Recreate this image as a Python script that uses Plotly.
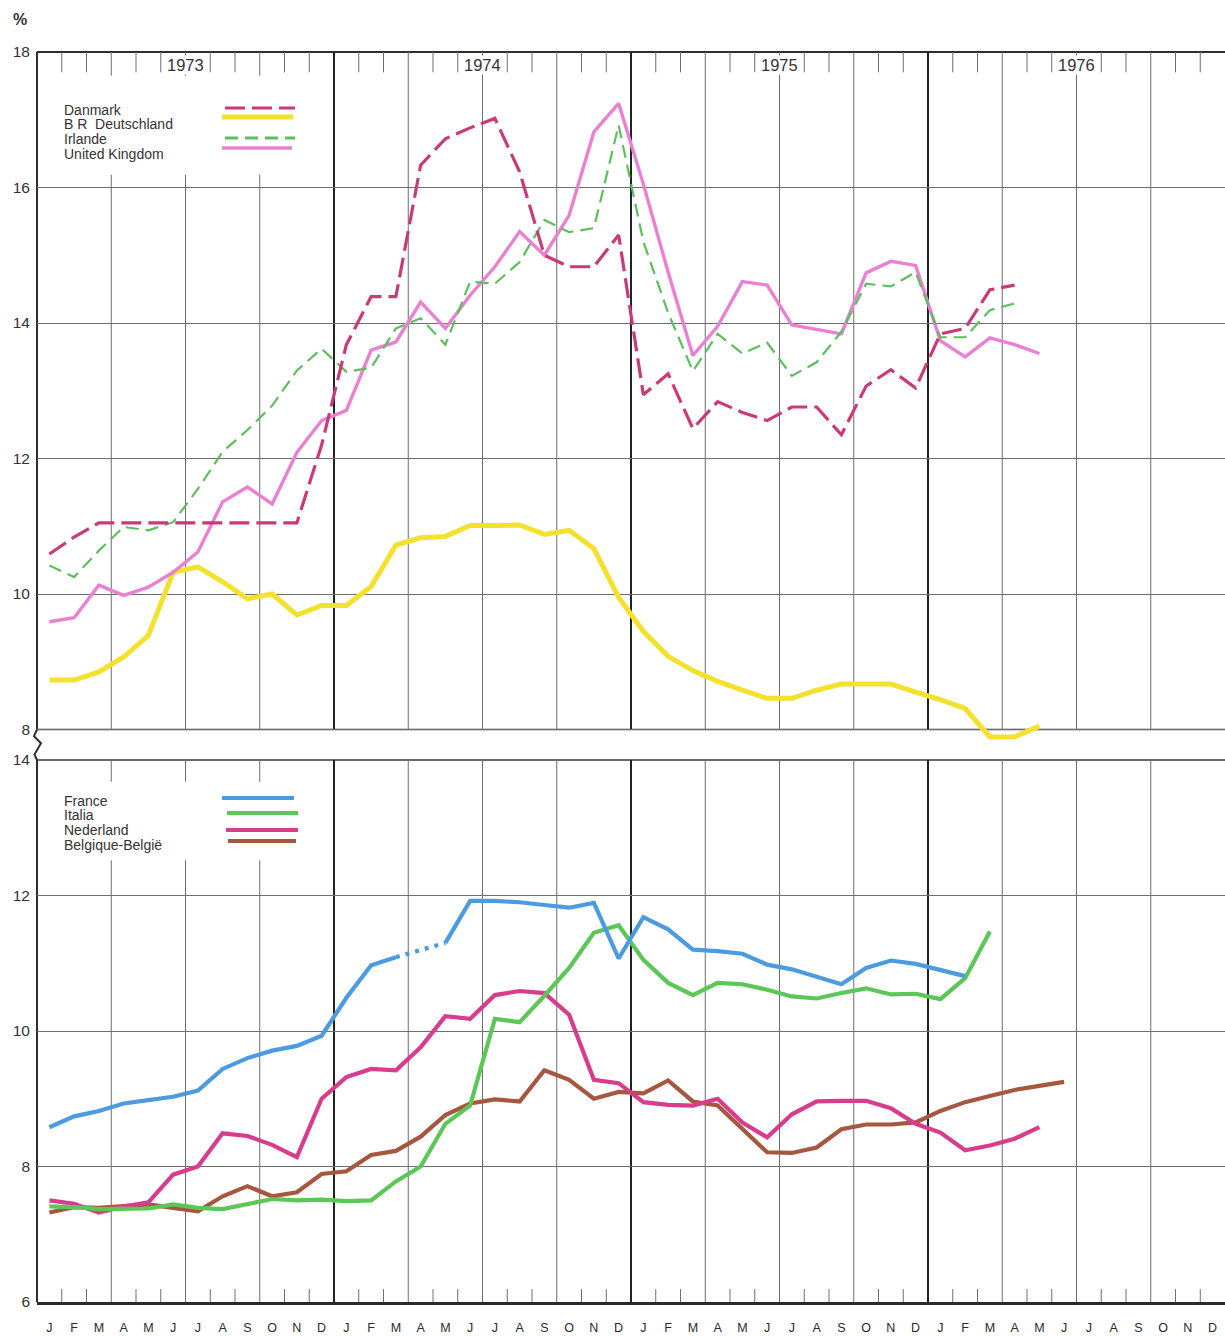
import plotly.graph_objects as go

# months Jan 1973 .. Dec 1976, one slot per month
MONTHS = list(range(48))
MONTH_LETTERS = list("JFMAMJJASOND") * 4
YEARS = ["1973", "1974", "1975", "1976"]

# ---- upper panel (%)
danmark = [10.59, 10.84, 11.05, 11.05, 11.05, 11.05, 11.05, 11.05, 11.05, 11.05, 11.05, 12.2,
           13.68, 14.39, 14.39, 16.33, 16.72, 16.88, 17.02, 16.23, 15.0, 14.83, 14.83, 15.3,
           12.94, 13.25, 12.44, 12.84, 12.68, 12.56, 12.76, 12.76, 12.35, 13.07, 13.31, 13.04,
           13.84, 13.92, 14.49, 14.56]
deutschland = [8.73, 8.73, 8.85, 9.07, 9.39, 10.32, 10.40, 10.18, 9.93, 10.0, 9.69, 9.83,
               9.83, 10.11, 10.72, 10.83, 10.85, 11.01, 11.01, 11.02, 10.88, 10.94, 10.67, 9.95,
               9.45, 9.08, 8.87, 8.71, 8.58, 8.46, 8.46, 8.58, 8.67, 8.67, 8.67, 8.55,
               8.44, 8.31, 7.89, 7.89, 8.05]
irlande = [10.42, 10.25, 10.64, 10.99, 10.94, 11.06, 11.55, 12.1, 12.42, 12.78, 13.3, 13.62,
           13.28, 13.34, 13.92, 14.07, 13.68, 14.61, 14.58, 14.9, 15.52, 15.34, 15.4, 16.92,
           15.2, 14.15, 13.29, 13.84, 13.55, 13.71, 13.22, 13.42, 13.87, 14.58, 14.54, 14.75,
           13.79, 13.79, 14.19, 14.29]
united_kingdom = [9.59, 9.65, 10.13, 9.98, 10.10, 10.32, 10.62, 11.36, 11.58, 11.33, 12.09, 12.56,
                  12.71, 13.6, 13.72, 14.31, 13.92, 14.41, 14.83, 15.35, 15.0, 15.59, 16.82, 17.24,
                  16.05, 14.75, 13.52, 13.95, 14.61, 14.56, 13.97, 13.9, 13.84, 14.74, 14.91, 14.85,
                  13.74, 13.5, 13.78, 13.68, 13.55]

# ---- lower panel (%)
france = [8.58, 8.74, 8.82, 8.93, 8.98, 9.03, 9.12, 9.44, 9.6, 9.71, 9.78, 9.93,
          10.49, 10.97, 11.09, None, 11.3, 11.92, 11.92, 11.9, 11.86, 11.82, 11.89, 11.07,
          11.68, 11.5, 11.2, 11.18, 11.14, 10.98, 10.91, 10.8, 10.69, 10.93, 11.04, 10.99,
          10.9, 10.81]
italia = [7.41, 7.40, 7.37, 7.37, 7.38, 7.44, 7.39, 7.37, 7.44, 7.52, 7.50, 7.51,
          7.49, 7.50, 7.78, 8.0, 8.63, 8.9, 10.18, 10.13, 10.52, 10.93, 11.45, 11.56,
          11.05, 10.71, 10.53, 10.71, 10.69, 10.61, 10.51, 10.48, 10.56, 10.63, 10.54, 10.55,
          10.47, 10.78, 11.47]
nederland = [7.5, 7.45, 7.32, 7.41, 7.47, 7.88, 8.0, 8.49, 8.45, 8.32, 8.14, 9.0,
             9.32, 9.44, 9.42, 9.76, 10.22, 10.18, 10.53, 10.59, 10.56, 10.24, 9.28, 9.23,
             8.95, 8.91, 8.9, 9.0, 8.65, 8.43, 8.77, 8.96, 8.97, 8.97, 8.86, 8.63,
             8.5, 8.24, 8.31, 8.41, 8.58]
belgique = [7.32, 7.40, 7.39, 7.42, 7.44, 7.39, 7.34, 7.56, 7.71, 7.56, 7.62, 7.89,
            7.93, 8.17, 8.23, 8.44, 8.76, 8.93, 8.99, 8.96, 9.42, 9.28, 9.0, 9.1,
            9.08, 9.27, 8.96, 8.9, 8.55, 8.21, 8.2, 8.28, 8.55, 8.62, 8.62, 8.65,
            8.82, 8.95, 9.04, 9.13, 9.19, 9.25]

FONT = "Liberation Sans, Arial, sans-serif"
INK = "#333333"
GRID = "#6e6e6e"

W, H = 1225, 1336
ML, MT, MB = 37, 52, 34
PLOT_W = W - ML
PLOT_H = H - MT - MB

TOP_RANGE = [7.84, 18]
BOT_RANGE = [6, 14]
BOT_DOM = [0, 542 / PLOT_H]
TOP_DOM = [1 - (TOP_RANGE[1] - TOP_RANGE[0]) * 67.75 / PLOT_H, 1]


def px(x):
    return (x - ML) / PLOT_W


def py(y):
    return (H - MB - y) / PLOT_H


def top_paper(v):
    return TOP_DOM[0] + (v - TOP_RANGE[0]) / (TOP_RANGE[1] - TOP_RANGE[0]) * (TOP_DOM[1] - TOP_DOM[0])


def bot_paper(v):
    return BOT_DOM[0] + (v - BOT_RANGE[0]) / (BOT_RANGE[1] - BOT_RANGE[0]) * (BOT_DOM[1] - BOT_DOM[0])


fig = go.Figure()


def add_line(values, color, width, dash, yaxis):
    fig.add_trace(go.Scatter(
        x=MONTHS[:len(values)], y=values, mode="lines",
        line=dict(color=color, width=width, dash=dash),
        connectgaps=False, showlegend=False, hoverinfo="skip",
        xaxis="x", yaxis=yaxis,
    ))


top_series = [
    ("Danmark", danmark, "#c93a7a", 3.2, "20px,7px"),
    ("B R  Deutschland", deutschland, "#f4e12e", 5, "solid"),
    ("Irlande", irlande, "#5cbf5c", 2.2, "13px,7px"),
    ("United Kingdom", united_kingdom, "#ea80d2", 3.4, "solid"),
]
bottom_series = [
    ("France", france, "#4c9be0", 4.2, "solid"),
    ("Italia", italia, "#5cc657", 4.2, "solid"),
    ("Nederland", nederland, "#d83c8c", 4.2, "solid"),
    ("Belgique-België", belgique, "#a5573f", 4.2, "solid"),
]

# draw order: yellow and UK under the dashed lines
for name, vals, col, w, d in [top_series[1], top_series[3], top_series[2], top_series[0]]:
    add_line(vals, col, w, d, "y2")
for name, vals, col, w, d in [bottom_series[3], bottom_series[2], bottom_series[1], bottom_series[0]]:
    add_line(vals, col, w, d, "y")

# dotted bridge over the missing French month
gap = france.index(None)
fig.add_trace(go.Scatter(
    x=[MONTHS[gap - 1], MONTHS[gap + 1]], y=[france[gap - 1], france[gap + 1]],
    mode="lines", line=dict(color="#4c9be0", width=4.2, dash="4px,6px"),
    showlegend=False, hoverinfo="skip", xaxis="x", yaxis="y",
))

shapes = []


def seg(x0, x1, y0, y1, yref, color, width, xref="x"):
    shapes.append(dict(type="line", xref=xref, yref=yref, x0=x0, x1=x1, y0=y0, y1=y1,
                       line=dict(color=color, width=width), layer="below"))


# vertical rulings: year lines, quarter lines, month ticks
for yr in range(4):
    for m in range(12):
        b = 12 * yr + m - 0.5
        if m == 0:
            if yr > 0:
                seg(b, b, 8, 18, "y2", "#222222", 2)
                seg(b, b, 6, 14, "y", "#222222", 2)
        elif m % 3 == 0:
            if yr == 0:
                seg(b, b, 8, 16.19, "y2", GRID, 1)
                seg(b, b, 17.65, 18, "y2", GRID, 1)
                seg(b, b, 6, 12.52, "y", GRID, 1)
                seg(b, b, 13.68, 14, "y", GRID, 1)
            else:
                seg(b, b, 8, 18, "y2", GRID, 1)
                seg(b, b, 6, 14, "y", GRID, 1)
        else:
            seg(b, b, 17.7, 18, "y2", GRID, 1)
            seg(b, b, 6, 6.19, "y", GRID, 1)

# frame lines (paper coords)
seg(0, 1, 1, 1, "paper", "#2e2e2e", 2, xref="paper")
seg(0, 1, top_paper(8), top_paper(8), "paper", "#3a3a3a", 1.6, xref="paper")
seg(0, 1, bot_paper(14), bot_paper(14), "paper", "#3a3a3a", 1.6, xref="paper")
seg(0, 0, top_paper(8), 1, "paper", "#2e2e2e", 2, xref="paper")
seg(0, 0, 0, bot_paper(14), "paper", "#2e2e2e", 2, xref="paper")
yt, yb = top_paper(8), bot_paper(14)
zig = "M {} {} L {} {} L {} {} L {} {} L {} {}".format(
    px(37), yt, px(34), yt - (yt - yb) * 0.22, px(41), yt - (yt - yb) * 0.45,
    px(34.5), yt - (yt - yb) * 0.82, px(37), yb)
shapes.append(dict(type="path", xref="paper", yref="paper", path=zig,
                   line=dict(color="#2e2e2e", width=2)))

annotations = []

# legends: label on the left, key line on the right
top_keys = [(110, 108, 225, 295), (124, 117, 222, 293), (139, 138, 225, 295), (154, 148, 222, 292)]
for (name, vals, col, w, d), (ty, ly, x0, x1) in zip(top_series, top_keys):
    annotations.append(dict(xref="paper", yref="paper", x=px(62), y=py(ty), text=name,
                            showarrow=False, xanchor="left", yanchor="middle",
                            font=dict(family=FONT, size=14, color=INK)))
    shapes.append(dict(type="line", xref="paper", yref="paper", x0=px(x0), x1=px(x1),
                       y0=py(ly), y1=py(ly), line=dict(color=col, width=max(w, 3), dash=d)))

bot_keys = [(801, 798, 222, 294), (815, 813, 227, 298), (830, 830, 226, 298), (845, 841, 228, 296)]
for (name, vals, col, w, d), (ty, ly, x0, x1) in zip(bottom_series, bot_keys):
    annotations.append(dict(xref="paper", yref="paper", x=px(62), y=py(ty), text=name,
                            showarrow=False, xanchor="left", yanchor="middle",
                            font=dict(family=FONT, size=14, color=INK)))
    shapes.append(dict(type="line", xref="paper", yref="paper", x0=px(x0), x1=px(x1),
                       y0=py(ly), y1=py(ly), line=dict(color=col, width=4)))

# year labels
for k, yr in enumerate(YEARS):
    annotations.append(dict(xref="x", yref="y2", x=12 * k + 5.5, y=17.81, text=yr,
                            showarrow=False, bgcolor="white", borderpad=0,
                            font=dict(family=FONT, size=16.5, color=INK)))

annotations.append(dict(xref="paper", yref="paper", x=px(11), y=py(20), text="<b>%</b>",
                        showarrow=False, xanchor="left", yanchor="middle",
                        font=dict(family=FONT, size=16, color=INK)))

yaxis_common = dict(showgrid=True, gridcolor=GRID, gridwidth=1, zeroline=False,
                    showline=False, ticks="", ticklabelstandoff=6,
                    tickfont=dict(family=FONT, size=15.5, color=INK))

fig.update_layout(
    width=W, height=H,
    margin=dict(l=ML, r=0, t=MT, b=MB),
    paper_bgcolor="white", plot_bgcolor="white",
    showlegend=False,
    xaxis=dict(range=[-0.5, 47.5], anchor="y", showgrid=False, zeroline=False,
               showline=True, linecolor="#2a2a2a", linewidth=3,
               tickvals=MONTHS, ticktext=MONTH_LETTERS, ticks="",
               ticklabelstandoff=12,
               tickfont=dict(family=FONT, size=12.5, color="#2a2a2a")),
    yaxis=dict(domain=BOT_DOM, range=BOT_RANGE, tickvals=[6, 8, 10, 12, 14],
               anchor="x", **yaxis_common),
    yaxis2=dict(domain=TOP_DOM, range=TOP_RANGE, tickvals=[8, 10, 12, 14, 16, 18],
                anchor="x", **yaxis_common),
    shapes=shapes,
    annotations=annotations,
)

# the page body has a default 8px margin; drop it so the figure fills the window
fig.write_html("out.html", config={"displayModeBar": False},
               post_script="document.body.style.margin='0';")
